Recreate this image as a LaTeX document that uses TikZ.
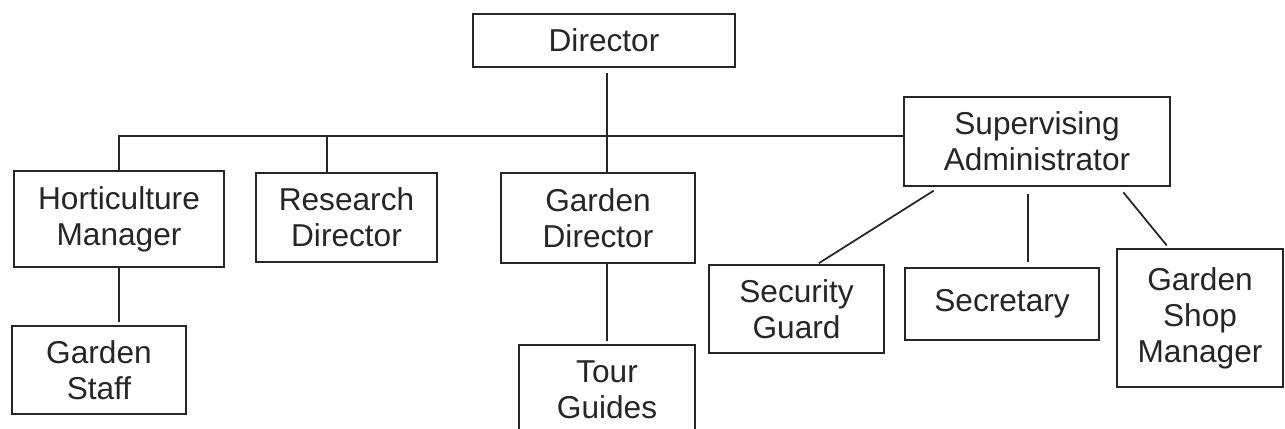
\documentclass[tikz,border=0pt]{standalone}
\usepackage{fontspec}
\setmainfont{Liberation Sans}
\usepackage{tikz}

\begin{document}
\begin{tikzpicture}[
    box/.style={draw=black!85, line width=1pt, text=black!85, align=center,
                inner sep=2pt, font=\fontsize{18}{20.4}\selectfont},
    link/.style={draw=black!85, line width=1pt}]
    \useasboundingbox (0,0) rectangle (25.7,8.58);

    \node (Dir)   at (12.08,7.77) [box, minimum width=5.24cm, minimum height=1.06cm] {Director};
    \node (Hort)  at (2.38,4.20)  [box, minimum width=4.20cm, minimum height=1.92cm] {Horticulture\\Manager};
    \node (Res)   at (6.93,4.23)  [box, minimum width=3.62cm, minimum height=1.78cm] {Research\\Director};
    \node (GDir)  at (11.96,4.22) [box, minimum width=3.88cm, minimum height=1.80cm] {Garden\\Director};
    \node (Sup)   at (20.74,5.75) [box, minimum width=5.32cm, minimum height=1.78cm] {Supervising\\Administrator};
    \node (Staff) at (1.98,1.18)  [box, minimum width=3.48cm, minimum height=1.76cm] {Garden\\Staff};
    \node (Tour)  at (12.14,0.78) [box, minimum width=3.52cm, minimum height=1.80cm] {Tour\\Guides};
    \node (Guard) at (15.93,2.40) [box, minimum width=3.50cm, minimum height=1.76cm] {Security\\Guard};
    \node (Sec)   at (20.04,2.50) [box, minimum width=3.88cm, minimum height=1.44cm] {Secretary};
    \node (Shop)  at (24.00,2.22) [box, minimum width=3.32cm, minimum height=2.76cm] {Garden\\Shop\\Manager};

    % bus line under the director
    \coordinate (bus) at (0,5.86);
    \draw[link] (Hort.north) -- (Hort.north |- bus) -- (Sup.west |- bus);
    \draw[link] (Res.113) -- (Res.113 |- bus);
    \draw[link, shorten <=3pt] (GDir.79 |- Dir.south) -- (GDir.79);

    % second level
    \draw[link, shorten >=2pt] (Hort.south) -- (Hort.south |- Staff.north);
    \draw[link, shorten <=2pt] (Tour.north) -- (Tour.north |- GDir.south);
    \draw[link, shorten <=4pt, shorten >=1pt] (Sup.205) -- (Guard.65);
    \draw[link, shorten <=4pt, shorten >=3pt] (Sup.259) -- (Sup.259 |- Sec.north);
    \draw[link, shorten <=4pt, shorten >=2pt] (Sup.-29) -- (Shop.114);
\end{tikzpicture}
\end{document}
